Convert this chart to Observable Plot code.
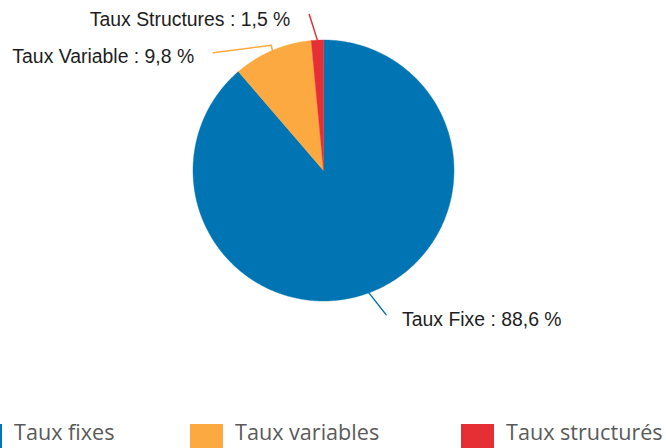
<!DOCTYPE html>
<html>
<head>
<meta charset="utf-8">
<script src="https://cdn.jsdelivr.net/npm/d3@7"></script>
<script src="https://cdn.jsdelivr.net/npm/@observablehq/plot@0.6"></script>
<style>
  html, body { margin: 0; padding: 0; background: #fff; width: 666px; height: 448px; overflow: hidden; }
  #chart svg { display: block; }
  #legend { position: relative; width: 666px; height: 30px; overflow: hidden; font-family: "Open Sans", sans-serif; font-size: 21.6px; color: #5a5a5a; }
  #legend .sw { position: absolute; top: 6px; width: 33px; height: 33px; }
  #legend .lb { position: absolute; top: 3px; line-height: 22px; white-space: nowrap; }
</style>
</head>
<body>
<div id="chart"></div>
<div id="legend"></div>
<script>
// ---- data ----
const categories = ["Taux Fixe", "Taux Variable", "Taux Structures"];
const values = [88.6, 9.8, 1.5];
const legendLabels = ["Taux fixes", "Taux variables", "Taux structurés"];
const colors = ["#0175b4", "#fca942", "#e52f34"];

// ---- layout (styling, not data) ----
const cx = 323, cy = 170, R = 130.5;
const W = 666, H = 418;
const conn = [
  {elbow: null, endR: 1.204, endDA: -3.1, anchor: "start", dx: 16, dy: 5},
  {elbow: {r: 1.04, da: 0.4}, endR: 1.236, endDA: -20.1, anchor: "end", dx: -19, dy: 4},
  {elbow: null, endR: 1.2, endDA: -2.5, anchor: "end", dx: -19, dy: 5}
];

const total = d3.sum(values);
const pol = (r, deg) => { const a = deg * Math.PI / 180; return {x: r * Math.sin(a), y: r * Math.cos(a)}; };

let cum = 0;
const slices = categories.map((c, i) => {
  const a0 = cum / total * 360; cum += values[i]; const a1 = cum / total * 360;
  const pts = [{x: 0, y: 0}];
  const n = Math.max(2, Math.ceil(a1 - a0) * 2);
  for (let k = 0; k <= n; k++) pts.push(pol(1, a0 + (a1 - a0) * k / n));
  return {cat: c, i, a0, a1, mid: (a0 + a1) / 2, pts};
});

const fmt = v => String(v).replace(".", ",");
const connLines = [];
const labelPts = [];
slices.forEach(s => {
  const L = conn[s.i];
  const line = [pol(1, s.mid)];
  if (L.elbow) line.push(pol(L.elbow.r, s.mid + L.elbow.da));
  const end = pol(L.endR, s.mid + L.endDA);
  line.push(end);
  line.forEach(p => connLines.push({...p, cat: s.cat}));
  labelPts.push({...end, text: `${s.cat} : ${fmt(values[s.i])} %`, anchor: L.anchor, dx: L.dx, dy: L.dy, color: colors[s.i]});
});

const marks = [];
slices.forEach(s => {
  marks.push(Plot.line(s.pts, {x: "x", y: "y", fill: colors[s.i], stroke: colors[s.i], strokeWidth: 0.4, curve: "linear-closed"}));
});
slices.forEach(s => {
  marks.push(Plot.line(connLines.filter(d => d.cat === s.cat), {x: "x", y: "y", stroke: colors[s.i], strokeWidth: 1.5}));
});
labelPts.forEach(l => {
  marks.push(Plot.text([l], {x: "x", y: "y", text: "text", textAnchor: l.anchor, dx: l.dx, dy: l.dy,
    fontSize: 19.4, fontFamily: "'Liberation Sans', Arial, sans-serif", fill: "#1e1e1e"}));
});

const chart = Plot.plot({
  width: W, height: H,
  marginTop: 0, marginRight: 0, marginBottom: 0, marginLeft: 0,
  x: {domain: [-1, 1], range: [cx - R, cx + R], axis: null},
  y: {domain: [-1, 1], range: [cy + R, cy - R], axis: null},
  marks
});
document.getElementById("chart").appendChild(chart);

// ---- legend ----
const legend = document.getElementById("legend");
const swLeft = [-31, 190, 461];
legendLabels.forEach((t, i) => {
  const sw = document.createElement("div");
  sw.className = "sw"; sw.style.left = swLeft[i] + "px"; sw.style.background = colors[i];
  const lb = document.createElement("div");
  lb.className = "lb"; lb.style.left = (swLeft[i] + 45) + "px"; lb.textContent = t;
  legend.appendChild(sw); legend.appendChild(lb);
});
</script>
</body>
</html>
